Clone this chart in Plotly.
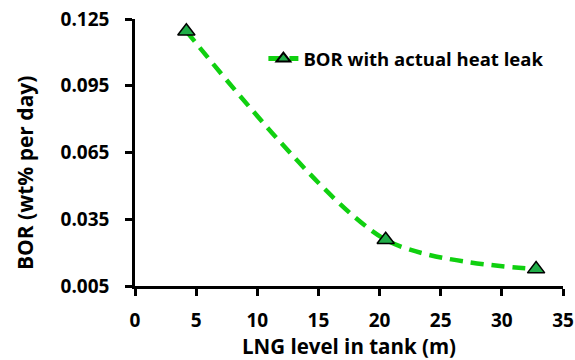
import plotly.graph_objects as go

lng_level = [4.2, 20.5, 32.8]
bor_values = [0.1195, 0.0258, 0.0126]
series_name = "BOR with actual heat leak"
y_ticks = [0.005, 0.035, 0.065, 0.095, 0.125]
y_tick_labels = ["0.005", "0.035", "0.065", "0.095", "0.125"]
x_ticks = [0, 5, 10, 15, 20, 25, 30, 35]
y_title = "BOR (wt% per day)"
x_title = "LNG level in tank (m)"

fig = go.Figure()
fig.add_trace(go.Scatter(
    x=lng_level, y=bor_values, name=series_name,
    mode="lines+markers",
    line=dict(color="#10D010", width=4.5, dash="13px,8px", shape="spline", smoothing=0.8),
    marker=dict(symbol="triangle-up", size=15, color="#20AD48",
                line=dict(color="black", width=1.5)),
))

font_family = "Open Sans, Liberation Sans, sans-serif"
fig.update_layout(
    width=575, height=360,
    margin=dict(l=135, r=12, t=19, b=74, autoexpand=False),
    paper_bgcolor="white", plot_bgcolor="white",
    font=dict(family=font_family, color="black"),
    showlegend=True,
    legend=dict(x=0.30, y=0.85, xanchor="left", yanchor="middle",
                bgcolor="rgba(0,0,0,0)", itemsizing="constant",
                font=dict(size=18.5, family=font_family, weight="bold")),
    xaxis=dict(
        range=[0, 35], tickvals=x_ticks, showgrid=False, zeroline=False,
        showline=True, linecolor="black", linewidth=2.5,
        ticks="outside", ticklen=7, tickwidth=2.5, tickcolor="black",
        ticklabelstandoff=8,
        tickfont=dict(size=19, family=font_family, weight="bold"),
        title=dict(text=x_title, standoff=12,
                   font=dict(size=20.5, family=font_family, weight="bold")),
    ),
    yaxis=dict(
        range=[0.005, 0.125], tickvals=y_ticks, ticktext=y_tick_labels,
        showgrid=False, zeroline=False,
        showline=True, linecolor="black", linewidth=2.5,
        ticks="outside", ticklen=7, tickwidth=2.5, tickcolor="black",
        ticklabelstandoff=12,
        tickfont=dict(size=19, family=font_family, weight="bold"),
    ),
    annotations=[dict(
        text=y_title, textangle=-90, showarrow=False,
        xref="paper", yref="paper", x=-0.257, y=0.423,
        xanchor="center", yanchor="middle",
        font=dict(size=21, family=font_family, weight="bold", color="black"),
    )],
)

fig.write_html("out.html", config={"displayModeBar": False},
               post_script="document.body.style.margin='0';")
